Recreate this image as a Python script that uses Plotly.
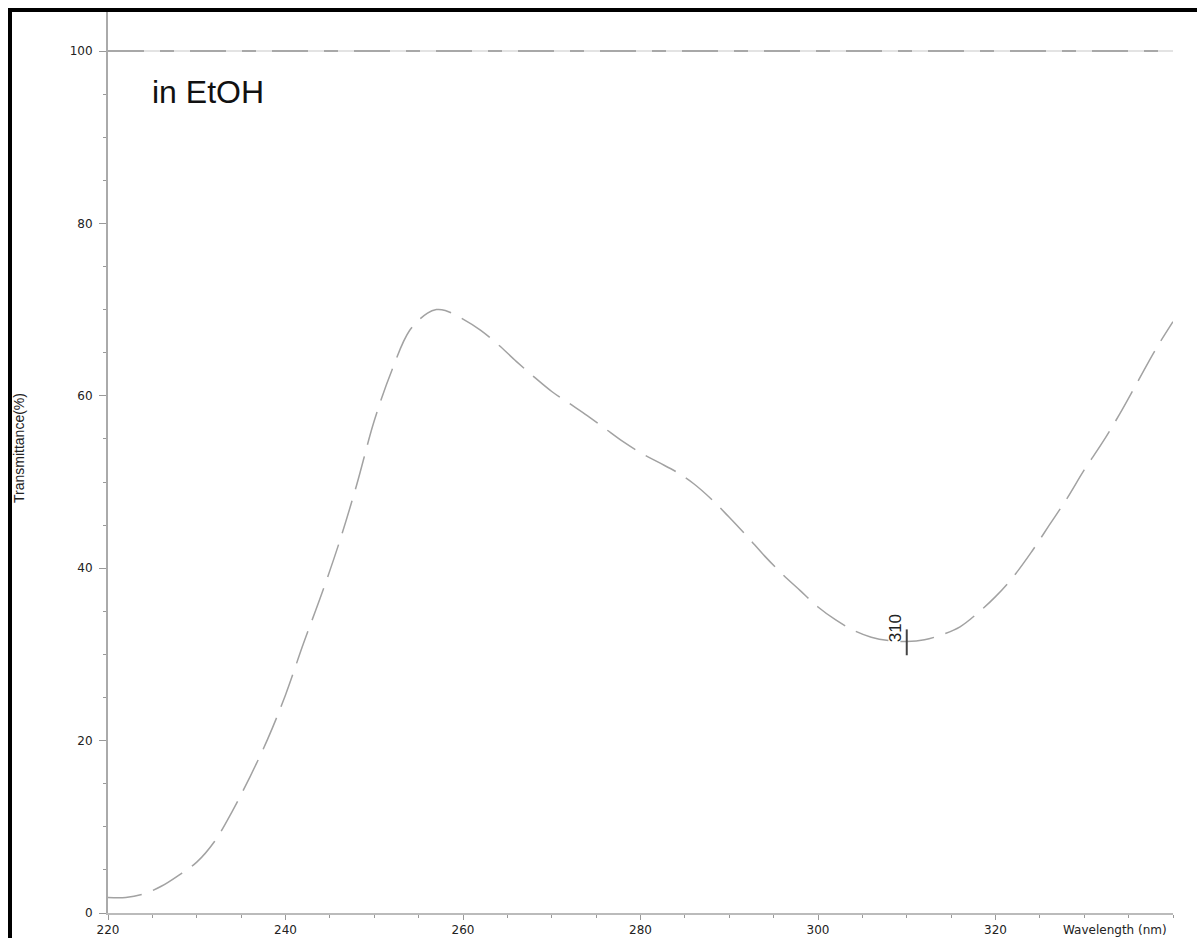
import plotly.graph_objects as go

# UV-Vis transmittance spectrum in ethanol
wavelength_nm = [220, 222, 224, 226, 228, 230, 232, 234, 236, 238, 240, 242, 244, 246, 248,
                 250, 252, 254, 256, 257, 258, 260, 262, 264, 266, 268, 270, 272, 274, 276,
                 278, 280, 282, 284, 286, 288, 290, 292, 294, 296, 298, 300, 302, 304, 306,
                 308, 310, 312, 314, 316, 318, 320, 322, 324, 326, 328, 330, 332, 334, 336,
                 338, 340]
transmittance = [1.8, 1.8, 2.2, 3.1, 4.4, 5.9, 8.3, 11.8, 15.8, 20.2, 25.3, 31.2, 36.8, 42.8, 49.6,
                 57.1, 63.0, 67.6, 69.6, 70.0, 69.9, 68.9, 67.6, 65.9, 64.0, 62.2, 60.5, 59.1, 57.7, 56.2,
                 54.7, 53.4, 52.3, 51.2, 49.8, 48.0, 45.9, 43.7, 41.4, 39.3, 37.4, 35.5, 34.0, 32.8, 32.0,
                 31.6, 31.5, 31.7, 32.3, 33.2, 34.8, 36.7, 39.0, 41.8, 44.9, 48.0, 51.4, 54.5, 57.9, 61.6,
                 65.3, 68.6]

# 100 % baseline
baseline_x = [220, 340]
baseline_t = [100.0, 100.0]

# picked minimum
peak_nm = 310
peak_t = 31.5
peak_label = "310"

x_ticks = [220, 240, 260, 280, 300, 320]
y_ticks = [0, 20, 40, 60, 80, 100]

W, H = 1197, 938
ML, MR, MT, MB = 108, 24, 12, 25
plot_w = W - ML - MR
plot_h = H - MT - MB
y_top = plot_h / ((H - MB - 51) / 100.0)


def px_x(px):
    return (px - ML) / plot_w


def px_y(py):
    return (H - MB - py) / plot_h


fig = go.Figure()

fig.add_trace(go.Scatter(
    x=baseline_x, y=baseline_t, mode="lines",
    line=dict(color="#c8c8c8", width=1.2), hoverinfo="skip", showlegend=False))
fig.add_trace(go.Scatter(
    x=baseline_x, y=baseline_t, mode="lines",
    line=dict(color="#a8a8a8", width=2.2, dash="36px,16px,14px,16px"),
    hoverinfo="skip", showlegend=False))

fig.add_trace(go.Scatter(
    x=wavelength_nm, y=transmittance, mode="lines",
    line=dict(color="#a2a2a2", width=1.5, dash="34px,12px", shape="spline", smoothing=1.0),
    showlegend=False))

# vertical pick mark at the minimum
fig.add_trace(go.Scatter(
    x=[peak_nm, peak_nm], y=[peak_t - 1.6, peak_t + 1.4], mode="lines",
    line=dict(color="#444444", width=2), hoverinfo="skip", showlegend=False))

fig.add_annotation(
    x=peak_nm, y=peak_t + 1.5, xref="x", yref="y", text=peak_label, textangle=-90,
    showarrow=False, xshift=-11, yanchor="middle", xanchor="center",
    font=dict(family="Liberation Sans, Arial", size=17, color="#222222"))

fig.add_annotation(
    x=px_x(150), y=px_y(92), xref="paper", yref="paper", text="in EtOH",
    showarrow=False, xanchor="left", yanchor="middle",
    font=dict(family="Liberation Sans, Arial", size=32, color="#111111"))

fig.add_annotation(
    x=px_x(19), y=px_y(448), xref="paper", yref="paper", text="Transmittance(%)",
    textangle=-90, showarrow=False, xanchor="center", yanchor="middle",
    font=dict(family="Liberation Sans, Arial", size=14, color="#222222"))

fig.add_annotation(
    x=px_x(1061), y=px_y(930), xref="paper", yref="paper", text="Wavelength (nm)",
    showarrow=False, xanchor="left", yanchor="middle",
    font=dict(family="DejaVu Sans", size=12, color="#222222"))

# outer frame (left and top edges)
frame = dict(type="line", xref="paper", yref="paper", line=dict(color="black", width=4))
fig.add_shape(**frame, x0=px_x(10), x1=px_x(W + 5), y0=px_y(10), y1=px_y(10))
fig.add_shape(**frame, x0=px_x(10), x1=px_x(10), y0=px_y(8), y1=px_y(H + 5))

axis_common = dict(
    showgrid=False, zeroline=False, showline=True, automargin=False,
    ticks="outside", tickcolor="#999999", tickwidth=1,
)

fig.update_layout(
    width=W, height=H, template="none",
    margin=dict(l=ML, r=MR, t=MT, b=MB, pad=0),
    paper_bgcolor="white", plot_bgcolor="white",
    showlegend=False,
    xaxis=dict(
        **axis_common, range=[220, 340], tickvals=x_ticks, ticklen=5,
        linecolor="#bbbbbb", linewidth=2,
        tickfont=dict(family="DejaVu Sans", size=12, color="#222222"),
        minor=dict(dtick=5, tick0=220, ticks="outside", ticklen=3, tickcolor="#999999"),
    ),
    yaxis=dict(
        **axis_common, range=[0, y_top], tickvals=y_ticks, ticklen=7,
        linecolor="#aaaaaa", linewidth=2, ticklabelstandoff=4,
        tickfont=dict(family="DejaVu Sans", size=12, color="#222222"),
        minor=dict(dtick=5, tick0=0, ticks="outside", ticklen=3, tickcolor="#999999"),
    ),
)

fig.write_html("out.html")
